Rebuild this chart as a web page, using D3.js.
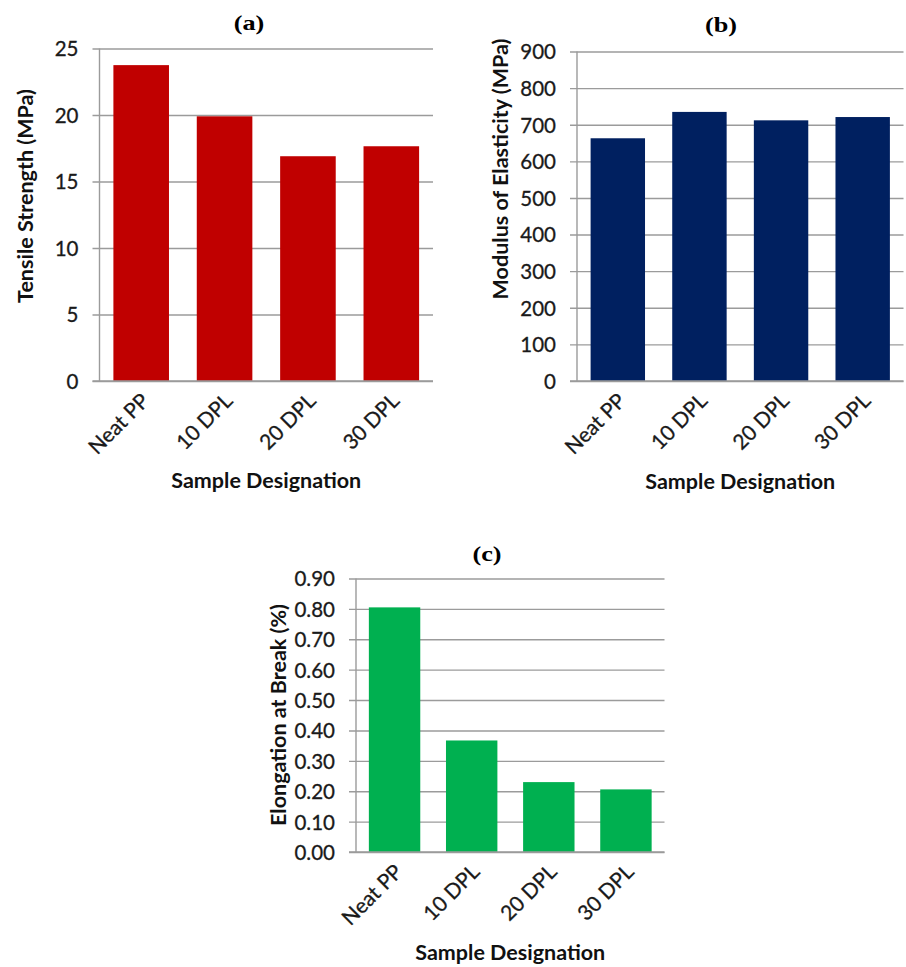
<!DOCTYPE html>
<html>
<head>
<meta charset="utf-8">
<script src="https://cdn.jsdelivr.net/npm/d3@7"></script>
<style>
  html, body { margin: 0; padding: 0; background: #fff; }
  svg { display: block; }
</style>
</head>
<body>
<svg id="fig" width="906" height="967"></svg>
<script>
// Sample designations shared by all three panels
const samples = ["Neat PP", "10 DPL", "20 DPL", "30 DPL"];

// (a) Tensile strength, MPa
const tensileStrength = [23.75, 19.9, 16.9, 17.65];
const tensileTicks = [0, 5, 10, 15, 20, 25];

// (b) Modulus of elasticity, MPa
const modulus = [663, 735, 712, 721];
const modulusTicks = [0, 100, 200, 300, 400, 500, 600, 700, 800, 900];

// (c) Elongation at break, %
const elongation = [0.805, 0.367, 0.230, 0.206];
const elongationTicks = [0, 0.1, 0.2, 0.3, 0.4, 0.5, 0.6, 0.7, 0.8, 0.9];

const FONT = "Lato, 'Open Sans', sans-serif";
const GRID = "#9b9b9b";
const INK = "#1a1a1a";

const panels = [
  {
    tag: "(a)", values: tensileStrength, ticks: tensileTicks, fmt: d3.format("d"),
    color: "#c00000", yTitle: "Tensile Strength (MPa)",
    left: 99.5, right: 433, top: 48.5, bottom: 381,
    tagX: 249, tagY: 30, yTitleX: 25, yTitleY: 196, xTitleY: 488
  },
  {
    tag: "(b)", values: modulus, ticks: modulusTicks, fmt: d3.format("d"),
    color: "#002060", yTitle: "Modulus of Elasticity (MPa)",
    left: 577, right: 903.5, top: 51.5, bottom: 381,
    tagX: 721, tagY: 32, yTitleX: 500, yTitleY: 169, xTitleY: 489
  },
  {
    tag: "(c)", values: elongation, ticks: elongationTicks, fmt: d3.format(".2f"),
    color: "#00b050", yTitle: "Elongation at Break (%)",
    left: 356, right: 664.5, top: 578.5, bottom: 852,
    tagX: 487, tagY: 560.5, yTitleX: 278, yTitleY: 715, xTitleY: 960
  }
];

const svg = d3.select("#fig");

panels.forEach(p => {
  const g = svg.append("g");

  const x = d3.scaleBand()
    .domain(samples)
    .range([p.left, p.right])
    .paddingInner(1 / 3)
    .paddingOuter(1 / 6);

  const y = d3.scaleLinear()
    .domain([0, d3.max(p.ticks)])
    .range([p.bottom, p.top]);

  // horizontal gridlines with short outward ticks on the value axis
  const yAxis = g.append("g")
    .attr("transform", `translate(${p.left},0)`)
    .call(d3.axisLeft(y)
      .tickValues(p.ticks)
      .tickFormat(p.fmt)
      .tickSizeInner(-(p.right - p.left))
      .tickSizeOuter(0)
      .tickPadding(0));
  yAxis.select(".domain").remove();
  yAxis.selectAll(".tick line")
    .attr("x1", -7)
    .attr("stroke", GRID)
    .attr("stroke-width", 1.4);
  yAxis.selectAll(".tick text")
    .attr("x", -21)
    .attr("dy", "0.36em")
    .attr("fill", INK)
    .attr("stroke", INK)
    .attr("stroke-width", 0.3)
    .style("font-family", FONT)
    .style("font-size", "20.5px");

  // vertical axis line
  g.append("line")
    .attr("x1", p.left).attr("x2", p.left)
    .attr("y1", p.top).attr("y2", p.bottom)
    .attr("stroke", GRID)
    .attr("stroke-width", 1.4);

  // bars
  g.append("g")
    .selectAll("rect")
    .data(samples.map((s, i) => ({ s, v: p.values[i] })))
    .join("rect")
    .attr("x", d => x(d.s))
    .attr("width", x.bandwidth())
    .attr("y", d => y(d.v))
    .attr("height", d => y(0) - y(d.v))
    .attr("fill", p.color);

  // baseline redrawn over the bars
  g.append("line")
    .attr("x1", p.left - 7).attr("x2", p.right)
    .attr("y1", p.bottom).attr("y2", p.bottom)
    .attr("stroke", GRID)
    .attr("stroke-width", 1.4);

  // rotated category labels
  g.append("g")
    .selectAll("text")
    .data(samples)
    .join("text")
    .attr("transform", d => `translate(${x(d) + x.bandwidth() / 2 + 4},${p.bottom + 16}) rotate(-45)`)
    .attr("text-anchor", "end")
    .attr("dy", "0.35em")
    .attr("fill", INK)
    .attr("stroke", INK)
    .attr("stroke-width", 0.3)
    .style("font-family", FONT)
    .style("font-size", "21px")
    .text(d => d);

  // x-axis title
  g.append("text")
    .attr("x", (p.left + p.right) / 2)
    .attr("y", p.xTitleY)
    .attr("text-anchor", "middle")
    .attr("fill", "#111")
    .style("font-family", FONT)
    .style("font-weight", "bold")
    .style("font-size", "21.5px")
    .text("Sample Designation");

  // y-axis title
  g.append("text")
    .attr("transform", `translate(${p.yTitleX},${p.yTitleY}) rotate(-90)`)
    .attr("text-anchor", "middle")
    .attr("dy", "0.35em")
    .attr("fill", "#111")
    .style("font-family", FONT)
    .style("font-weight", "bold")
    .style("font-size", "21.5px")
    .text(p.yTitle);

  // panel tag, set in a wide bold serif
  g.append("text")
    .attr("transform", `translate(${p.tagX},${p.tagY}) scale(1.25,1)`)
    .attr("text-anchor", "middle")
    .attr("fill", "#000")
    .style("font-family", "'Liberation Serif', 'Times New Roman', serif")
    .style("font-weight", "bold")
    .style("font-size", "21px")
    .text(p.tag);
});
</script>
</body>
</html>
